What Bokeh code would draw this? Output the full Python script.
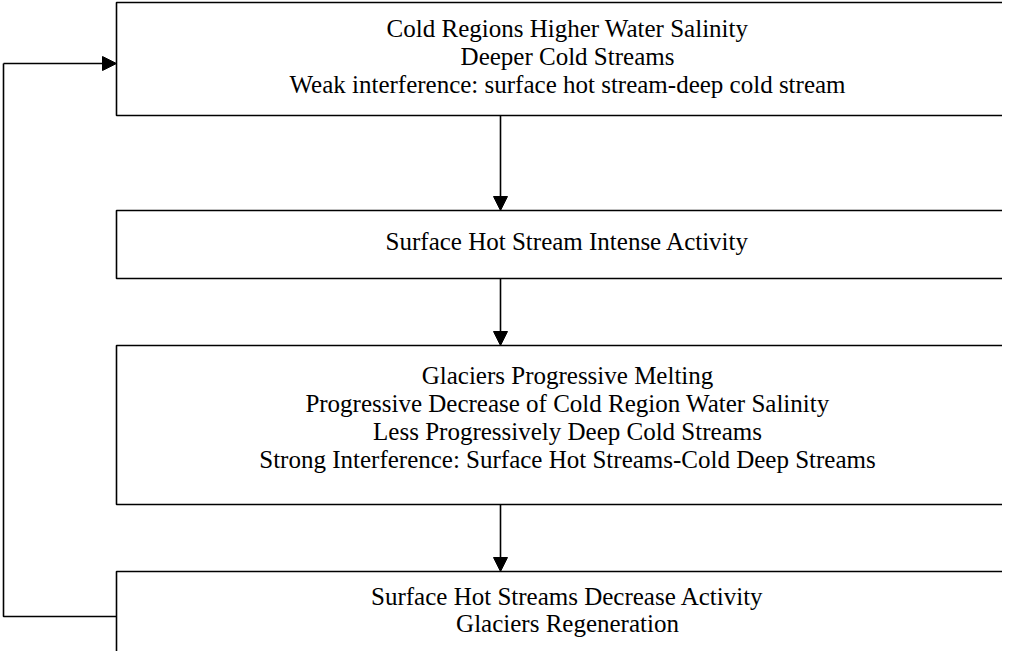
from bokeh.plotting import figure
from bokeh.models import Range1d, Arrow, NormalHead, ColumnDataSource
from bokeh.core.properties import value
from bokeh.embed import file_html
from bokeh.resources import INLINE

# ---- content (text of each flowchart box) ----
box1_lines = ["Cold Regions Higher Water Salinity",
              "Deeper Cold Streams",
              "Weak interference: surface hot stream-deep cold stream"]
box2_lines = ["Surface Hot Stream Intense Activity"]
box3_lines = ["Glaciers Progressive Melting",
              "Progressive Decrease of Cold Region Water Salinity",
              "Less Progressively Deep Cold Streams",
              "Strong Interference: Surface Hot Streams-Cold Deep Streams"]
box4_lines = ["Surface Hot Streams Decrease Activity",
              "Glaciers Regeneration"]

# ---- layout (screen pixel coordinates) ----
BOX_LEFT = 124
BOX_RIGHT = 1040
box_tops = [10, 218, 353, 579]
box_bottoms = [123, 286, 512, None]      # last box is open at the bottom
first_baseline = [36, 249, 383, 603.5]
line_gap = [28, 28, 28, 27.5]
TEXT_X = 575
ARROW_X = 508
LOOP_X = 11
LOOP_TOP = 71
LOOP_BOTTOM = 624

FONT = "Liberation Serif"
FS = "25px"
LW = 1.6

p = figure(width=1002, height=651,
           x_range=Range1d(8, 1010), y_range=Range1d(659, 8),
           output_backend="svg", toolbar_location=None,
           x_axis_location=None, y_axis_location=None,
           min_border=0, background_fill_color="white",
           border_fill_color="white")
p.grid.visible = False
p.outline_line_color = None

# boxes
xs, ys = [], []
for top, bot in zip(box_tops, box_bottoms):
    if bot is None:
        xs.append([BOX_RIGHT, BOX_LEFT, BOX_LEFT])
        ys.append([top, top, 700])
    else:
        xs.append([BOX_RIGHT, BOX_LEFT, BOX_LEFT, BOX_RIGHT])
        ys.append([top, top, bot, bot])
p.multi_line(xs, ys, line_color="black", line_width=LW)

# texts
all_boxes = [box1_lines, box2_lines, box3_lines, box4_lines]
tx, ty, tt = [], [], []
for lines, b0, g in zip(all_boxes, first_baseline, line_gap):
    for i, s in enumerate(lines):
        tx.append(TEXT_X)
        ty.append(b0 + i * g)
        tt.append(s)
src = ColumnDataSource(dict(x=tx, y=ty, text=tt))
p.text(x="x", y="y", text="text", source=src,
       text_font=value(FONT), text_font_size=FS,
       text_align="center", text_baseline="alphabetic", text_color="black")

# vertical arrows between boxes
for k in range(3):
    p.add_layout(Arrow(end=NormalHead(size=14, fill_color="black", line_color="black"),
                       x_start=ARROW_X, y_start=box_bottoms[k],
                       x_end=ARROW_X, y_end=box_tops[k + 1],
                       line_color="black", line_width=LW))

# feedback loop
p.line([BOX_LEFT, LOOP_X, LOOP_X], [LOOP_BOTTOM, LOOP_BOTTOM, LOOP_TOP],
       line_color="black", line_width=LW)
p.add_layout(Arrow(end=NormalHead(size=14, fill_color="black", line_color="black"),
                   x_start=LOOP_X, y_start=LOOP_TOP,
                   x_end=BOX_LEFT, y_end=LOOP_TOP,
                   line_color="black", line_width=LW))

open("out.html", "w").write(file_html(p, INLINE))
